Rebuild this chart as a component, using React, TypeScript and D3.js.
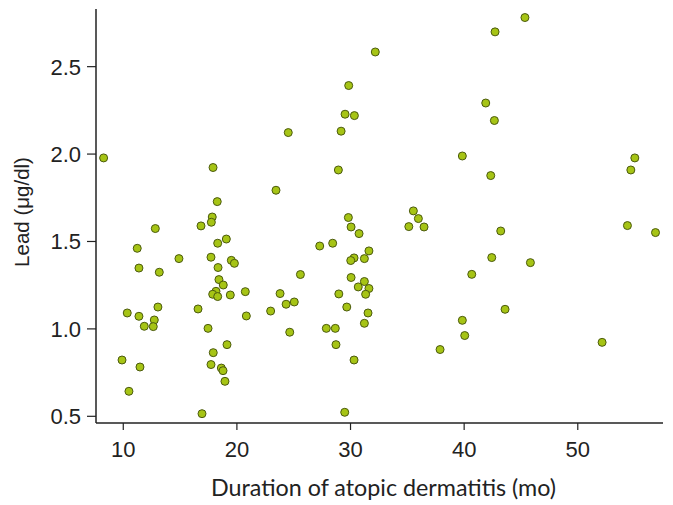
import React from "react";
import * as d3 from "d3";

const durationMo = [
  8.27, 24.52, 17.9, 23.44, 18.27, 17.83, 17.75, 16.84, 12.82, 19.07,
  18.31, 11.23, 14.9, 17.72, 19.51, 19.78, 11.38, 18.34, 13.17, 18.42,
  18.8, 18.16, 17.87, 18.31, 19.42, 20.74, 23.8, 24.33, 22.97, 20.83,
  13.05, 10.35, 11.38, 12.73, 11.85, 12.64, 16.58, 17.46, 24.65, 19.13,
  17.92, 17.72, 18.63, 18.78, 18.95, 9.89, 11.47, 10.5, 16.93, 32.18,
  29.84, 29.52, 30.34, 29.17, 39.84, 28.93, 35.53, 35.97, 29.81, 35.13,
  36.47, 30.05, 30.75, 27.29, 28.43, 31.62, 30.31, 30.02, 31.22, 25.59,
  30.05, 31.22, 30.68, 31.62, 31.33, 28.97, 25.05, 29.67, 31.54, 31.22,
  27.87, 28.66, 28.72, 30.31, 29.49, 40.67, 39.84, 40.05, 37.88, 45.35,
  42.72, 41.9, 42.66, 42.34, 55.02, 54.67, 43.22, 42.43, 45.83, 43.6,
  54.37, 56.84, 52.14,
];

const leadUgDl = [
  1.978, 2.123, 1.923, 1.793, 1.728, 1.64, 1.61, 1.589, 1.574, 1.514,
  1.49, 1.461, 1.402, 1.41, 1.392, 1.375, 1.348, 1.351, 1.324, 1.282,
  1.251, 1.215, 1.198, 1.185, 1.194, 1.213, 1.202, 1.141, 1.102, 1.074,
  1.125, 1.091, 1.072, 1.051, 1.015, 1.013, 1.114, 1.003, 0.981, 0.91,
  0.864, 0.796, 0.776, 0.761, 0.7, 0.822, 0.782, 0.643, 0.515, 2.584,
  2.392, 2.228, 2.22, 2.131, 1.989, 1.909, 1.675, 1.631, 1.637, 1.585,
  1.583, 1.583, 1.545, 1.474, 1.49, 1.446, 1.406, 1.391, 1.402, 1.311,
  1.294, 1.271, 1.24, 1.231, 1.198, 1.2, 1.154, 1.125, 1.091, 1.032,
  1.003, 1.003, 0.91, 0.822, 0.523, 1.312, 1.049, 0.962, 0.882, 2.781,
  2.699, 2.292, 2.192, 1.877, 1.978, 1.909, 1.56, 1.408, 1.379, 1.112,
  1.591, 1.551, 0.923,
];

const xTicks = [10, 20, 30, 40, 50];
const yTicks = [0.5, 1.0, 1.5, 2.0, 2.5];
const xTitle = "Duration of atopic dermatitis (mo)";
const yTitle = "Lead (μg/dl)";

export default function App() {
  const W = 673;
  const H = 505;
  const left = 96;
  const right = 663;
  const top = 9;
  const bottom = 423;

  const x = d3.scaleLinear().domain([7.6, 57.5]).range([left, right]);
  const y = d3.scaleLinear().domain([0.4617, 2.8298]).range([bottom, top]);

  const points = durationMo.map((d, i) => ({ x: d, y: leadUgDl[i] }));
  const tickFont = "'Liberation Sans', Arial, sans-serif";
  const titleFont = "Lato, 'Open Sans', sans-serif";

  return (
    <svg
      width={W}
      height={H}
      style={{ position: "absolute", left: 0, top: 0, background: "#fff" }}
    >
      <line x1={left} x2={left} y1={top} y2={bottom} stroke="#222" strokeWidth={1.5} />
      <line x1={left} x2={right} y1={bottom} y2={bottom} stroke="#222" strokeWidth={1.5} />
      {xTicks.map((t) => (
        <g key={"x" + t}>
          <line x1={x(t)} x2={x(t)} y1={bottom} y2={bottom + 7} stroke="#222" strokeWidth={1.2} />
          <text
            x={x(t)}
            y={457}
            textAnchor="middle"
            fontFamily={tickFont}
            fontSize={22}
            fill="#222"
          >
            {t}
          </text>
        </g>
      ))}
      {yTicks.map((t) => (
        <g key={"y" + t}>
          <line x1={left - 9} x2={left} y1={y(t)} y2={y(t)} stroke="#222" strokeWidth={1.2} />
          <text
            x={81}
            y={y(t)}
            dy="0.36em"
            textAnchor="end"
            fontFamily={tickFont}
            fontSize={22}
            fill="#222"
          >
            {t.toFixed(1)}
          </text>
        </g>
      ))}
      <text
        x={211}
        y={496}
        textAnchor="start"
        fontFamily={titleFont}
        fontSize={23}
        textLength={345}
        lengthAdjust="spacingAndGlyphs"
        fill="#222"
      >
        {xTitle}
      </text>
      <text
        transform={`translate(29, 212) rotate(-90)`}
        textAnchor="middle"
        fontFamily={tickFont}
        fontSize={20.5}
        fill="#222"
      >
        {yTitle}
      </text>
      {points.map((p, i) => (
        <circle
          key={i}
          cx={x(p.x)}
          cy={y(p.y)}
          r={4}
          fill="#a6c415"
          stroke="#4b5a0e"
          strokeWidth={1}
        />
      ))}
    </svg>
  );
}
